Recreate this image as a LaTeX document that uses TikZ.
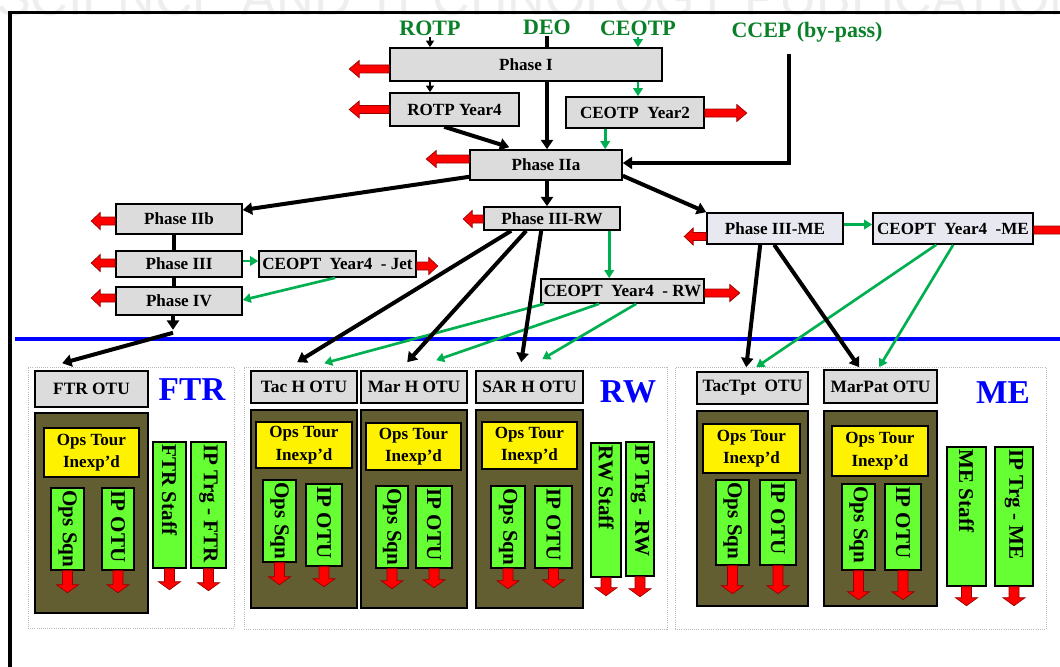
\documentclass[tikz,border=0pt]{standalone}
\usepackage{fontspec}
\setmainfont{Liberation Serif}
\newfontfamily\wmfont{Liberation Sans}
\usetikzlibrary{arrows.meta,calc}
\definecolor{boxgray}{RGB}{220,220,220}
\definecolor{megray}{RGB}{232,232,240}
\definecolor{olivebox}{RGB}{98,94,50}
\definecolor{limebox}{RGB}{102,255,51}
\definecolor{arrgreen}{RGB}{0,176,80}
\definecolor{txtgreen}{RGB}{10,128,40}
\definecolor{darkred}{RGB}{150,0,0}
\definecolor{wmgray}{RGB}{238,238,238}
\definecolor{panelgray}{RGB}{185,185,185}
\newcommand\bx[7]{\node[#1, minimum width={(#4-#2)*0.75pt}, minimum height={(#5-#3)*0.75pt}] (#6) at ({(#2+#4)/2},{(#3+#5)/2}) {#7};}
% start, angle, length, head length, shaft half width, head half width
\newcommand\blk[6]{\begin{scope}[shift={(#1)}, rotate=#2]
\draw[redarr] (0,-#5) -- ({#3-#4},-#5) -- ({#3-#4},-#6) -- (#3,0) -- ({#3-#4},#6) -- ({#3-#4},#5) -- (0,#5) -- cycle;
\end{scope}}
\tikzset{
 gbox/.style={draw=black, line width=1.2pt, fill=boxgray, inner sep=0pt, font=\fontsize{12.8}{14}\selectfont\bfseries},
 mebox/.style={gbox, fill=megray},
 otu/.style={gbox, font=\fontsize{13}{15}\selectfont\bfseries},
 obox/.style={draw=black, line width=1.1pt, fill=olivebox, inner sep=0pt},
 ybox/.style={draw=black, line width=1.1pt, fill=yellow, inner sep=0pt, align=center, font=\fontsize{12.8}{17}\selectfont\bfseries},
 lbox/.style={draw=black, line width=1.1pt, fill=limebox, inner sep=0pt},
 vtext/.style={rotate=-90, anchor=west, inner sep=0pt, font=\fontsize{15.8}{17}\selectfont\bfseries},
 toplab/.style={text=txtgreen, font=\fontsize{16.5}{18}\selectfont\bfseries, inner sep=1pt},
 biglab/.style={text=blue, font=\fontsize{25}{28}\selectfont\bfseries, inner sep=0pt},
 panel/.style={draw=panelgray, densely dotted, line width=0.6pt, inner sep=0pt},
 blkline/.style={line width=3pt, -{Triangle[length=7pt,width=9pt]}},
 blknoarr/.style={line width=3pt},
 thinblk/.style={line width=1.5pt, -{Triangle[length=5pt,width=6pt]}},
 grn/.style={draw=arrgreen, line width=2pt, -{Triangle[length=6pt,width=7pt]}},
 redarr/.style={fill=red, draw=darkred, line width=0.5pt, line join=miter},
}
\begin{document}
\begin{tikzpicture}[x=0.75pt,y=-0.75pt]
\useasboundingbox (0,0) rectangle (1060,667);
\clip (0,0) rectangle (1060,667);
\fill[white] (0,0) rectangle (1060,667);
% watermark
\node[anchor=base west, text=wmgray, font=\wmfont\fontsize{39}{40}\selectfont, inner sep=0pt] (wm) at (-4,15.5) {SCIENCE AND TECHNOLOGY PUBLICATIONS};
% frame and divider
\draw[line width=2.5pt] (10,667) -- (10,12.5) -- (1062,12.5);
\draw[blue, line width=2.5pt] (15,339) -- (1062,339);

% ---------- top labels ----------
\node[toplab] (lrotp) at (430,28) {ROTP};
\node[toplab] (ldeo) at (547,27) {DEO};
\node[toplab] (lceotp) at (638,28) {CEOTP};
\node[toplab] (lccep) at (807,32) {CCEP (by-pass)};

% ---------- top boxes ----------
\bx{gbox}{390}{48}{662}{81}{p1}{Phase I}
\bx{gbox}{390}{93}{519}{126}{ry4}{ROTP Year4}
\bx{gbox}{566}{97}{704}{128}{cy2}{CEOTP~ Year2}
\bx{gbox}{470}{150}{622}{180}{p2a}{Phase IIa}
\bx{gbox}{116}{204}{242}{234}{p2b}{Phase IIb}
\bx{gbox}{116}{251}{242}{277}{p3}{Phase III}
\bx{gbox}{116}{287}{242}{315}{p4}{Phase IV}
\bx{gbox}{259}{251}{416}{277}{jet}{CEOPT~ Year4~ - Jet}
\bx{gbox}{484}{207}{620}{230}{p3rw}{Phase III-RW}
\bx{gbox}{541}{279}{704}{303}{crw}{CEOPT~ Year4~ - RW}
\bx{mebox}{707}{213}{843}{244}{p3me}{Phase III-ME}
\bx{mebox}{873}{213}{1033}{244}{cme}{CEOPT~ Year4~ -ME}

% ---------- panels ----------
\bx{panel}{28}{367}{234}{628}{ftrP}{}
\bx{panel}{244}{367}{667}{629}{rwP}{}
\bx{panel}{675}{367}{1046}{629}{meP}{}

% FTR
\bx{otu}{35}{371}{148}{407}{ftr}{FTR OTU}
\node[biglab] (lftr) at (192,390) {FTR};
\bx{obox}{35}{413}{148}{613}{ftrO}{}
\bx{ybox}{44}{428}{139}{477}{ftrY}{Ops Tour\\Inexp’d}
\bx{lbox}{51}{488}{84}{570}{ftrG1}{}
\bx{lbox}{102}{488}{134}{570}{ftrG2}{}
\bx{lbox}{153}{442}{186}{568}{ftrS}{}
\bx{lbox}{191}{442}{226}{568}{ftrT}{}
\node[vtext] (ftrG1t) at ($(ftrG1.north)+(0,3)$) {Ops Sqn};
\node[vtext] (ftrG2t) at ($(ftrG2.north)+(0,3)$) {IP OTU};
\node[vtext] (ftrSt) at ($(ftrS.north)+(0,3)$) {FTR Staff};
\node[vtext] (ftrTt) at ($(ftrT.north)+(0,3)$) {IP Trg - FTR};

% RW
\bx{otu}{251}{371}{357}{403}{tach}{Tac H OTU}
\bx{otu}{361}{371}{467}{403}{marh}{Mar H OTU}
\bx{otu}{476}{371}{583}{403}{sarh}{SAR H OTU}
\node[biglab] (lrw) at (628,392) {RW};
\bx{obox}{251}{410}{357}{608}{tacO}{}
\bx{obox}{361}{410}{467}{608}{marO}{}
\bx{obox}{476}{410}{583}{608}{sarO}{}
\bx{ybox}{256}{422}{352}{468}{tacY}{Ops Tour\\Inexp’d}
\bx{ybox}{366}{423}{461}{470}{marY}{Ops Tour\\Inexp’d}
\bx{ybox}{482}{422}{577}{469}{sarY}{Ops Tour\\Inexp’d}
\bx{lbox}{263}{480}{296}{562}{tacG1}{}
\bx{lbox}{306}{484}{342}{566}{tacG2}{}
\bx{lbox}{376}{486}{408}{568}{marG1}{}
\bx{lbox}{416}{486}{452}{568}{marG2}{}
\bx{lbox}{491}{486}{525}{568}{sarG1}{}
\bx{lbox}{535}{486}{572}{568}{sarG2}{}
\bx{lbox}{591}{443}{621}{577}{rwS}{}
\bx{lbox}{626}{442}{654}{576}{rwT}{}
\node[vtext] (tacG1t) at ($(tacG1.north)+(0,3)$) {Ops Sqn};
\node[vtext] (tacG2t) at ($(tacG2.north)+(0,3)$) {IP OTU};
\node[vtext] (marG1t) at ($(marG1.north)+(0,3)$) {Ops Sqn};
\node[vtext] (marG2t) at ($(marG2.north)+(0,3)$) {IP OTU};
\node[vtext] (sarG1t) at ($(sarG1.north)+(0,3)$) {Ops Sqn};
\node[vtext] (sarG2t) at ($(sarG2.north)+(0,3)$) {IP OTU};
\node[vtext] (rwSt) at ($(rwS.north)+(0,3)$) {RW Staff};
\node[vtext] (rwTt) at ($(rwT.north)+(0,3)$) {IP Trg - RW};

% ME
\bx{otu}{697}{372}{808}{404}{tact}{TacTpt~ OTU}
\bx{otu}{824}{370}{937}{403}{marp}{MarPat OTU}
\node[biglab] (lme) at (1003,393) {ME};
\bx{obox}{697}{411}{808}{606}{tactO}{}
\bx{obox}{824}{411}{937}{606}{marpO}{}
\bx{ybox}{703}{424}{800}{473}{tactY}{Ops Tour\\Inexp’d}
\bx{ybox}{832}{426}{928}{476}{marpY}{Ops Tour\\Inexp’d}
\bx{lbox}{716}{480}{749}{565}{tactG1}{}
\bx{lbox}{760}{480}{796}{565}{tactG2}{}
\bx{lbox}{842}{484}{875}{570}{marpG1}{}
\bx{lbox}{885}{484}{921}{570}{marpG2}{}
\bx{lbox}{947}{447}{986}{586}{meS}{}
\bx{lbox}{995}{447}{1033}{586}{meT}{}
\node[vtext] (tactG1t) at ($(tactG1.north)+(0,3)$) {Ops Sqn};
\node[vtext] (tactG2t) at ($(tactG2.north)+(0,3)$) {IP OTU};
\node[vtext] (marpG1t) at ($(marpG1.north)+(0,3)$) {Ops Sqn};
\node[vtext] (marpG2t) at ($(marpG2.north)+(0,3)$) {IP OTU};
\node[vtext] (meSt) at ($(meS.north)+(0,3)$) {ME Staff};
\node[vtext] (meTt) at ($(meT.north)+(0,3)$) {IP Trg - ME};

% ---------- connectors ----------
\draw[thinblk] (lrotp.south) -- (lrotp.south |- p1.north);
\draw[thinblk] (p1.south -| lrotp) -- (ry4.north -| lrotp);
\draw[blknoarr] (ldeo.south) -- (ldeo.south |- p1.north);
\draw[blkline] (p1.south -| ldeo) -- (p2a.north -| ldeo);
\draw[grn] (lceotp.south) -- (lceotp.south |- p1.north);
\draw[grn] (p1.south -| lceotp) -- (cy2.north -| lceotp);
\coordinate (cy2b) at ($(cy2.south west)+(40,0)$);
\draw[grn] (cy2b) -- (cy2b |- p2a.north);
\draw[blkline] ($(ry4.south west)+(55,0)$) -- ($(p2a.north west)+(40,-2)$);
\coordinate (cc) at ($(lccep.south)+(-18,10)$);
\coordinate (p2ae) at ($(p2a.east)+(0,-2)$);
\draw[blkline] (cc) |- (p2ae);
\draw[blkline] ($(p2a.south west)+(0,-4)$) -- ($(p2b.east)+(0,-9)$);
\draw[blkline] (p2a.south -| ldeo) -- (p3rw.north -| ldeo);
\draw[blkline] ($(p2a.south east)+(0,-5)$) -- (p3me.north west);
\draw[blknoarr] ($(p2b.south)+(-5,0)$) -- ($(p3.north)+(-5,0)$);
\draw[blknoarr] ($(p3.south)+(-5,0)$) -- ($(p4.north)+(-5,0)$);
\coordinate (p4t) at ($(p4.south)+(-6,14)$);
\draw[blkline] ($(p4.south)+(-6,0)$) -- (p4t);
\draw[blkline] ($(p4t)+(0,3)$) -- ($(ftr.north west)+(28,-7)$);
\draw[grn] ($(p3.east)+(0,-3)$) -- ($(jet.west)+(0,-3)$);
\draw[grn] ($(jet.south west)+(77,0)$) -- ($(p4.east)+(0,-1)$);
\coordinate (rwb) at ($(p3rw.south west)+(126,0)$);
\draw[grn] (rwb) -- (rwb |- crw.north);
\draw[grn] ($(p3me.east)+(0,-4)$) -- ($(cme.west)+(0,-4)$);
% to RW OTUs
\draw[grn] ($(crw.south west)+(4,0)$) -- ($(tach.north west)+(74,-7)$);
\draw[grn] ($(crw.south west)+(59,0)$) -- ($(marh.north west)+(76,-10)$);
\draw[grn] ($(crw.south west)+(96,0)$) -- ($(sarh.north west)+(67,-11)$);
\draw[blkline] ($(p3rw.south west)+(28,0)$) -- ($(tach.north west)+(47,-8)$);
\draw[blkline] ($(p3rw.south west)+(43,0)$) -- ($(marh.north west)+(47,-8)$);
\draw[blkline] ($(p3rw.south west)+(58,0)$) -- ($(sarh.north west)+(46,-8)$);
% to ME OTUs
\draw[grn] ($(cme.south west)+(64,0)$) -- ($(tact.north west)+(60,-4)$);
\draw[grn] ($(cme.south west)+(81,0)$) -- ($(marp.north west)+(56,-2)$);
\draw[blkline] ($(p3me.south west)+(54,0)$) -- ($(tact.north west)+(50,-4)$);
\draw[blkline] ($(p3me.south west)+(68,0)$) -- ($(marp.north west)+(36,-2)$);

% ---------- red block arrows ----------
\blk{$(p1.west)+(0,4.5)$}{180}{40}{10}{4}{8.5}
\blk{ry4.west}{180}{40}{10}{4}{8.5}
\blk{$(cy2.east)+(0,0.5)$}{0}{42}{10}{4}{8.5}
\blk{$(p2a.west)+(0,-6)$}{180}{43}{10}{4}{8.5}
\blk{$(p2b.west)+(0,2)$}{180}{24}{9}{4}{8.5}
\blk{$(p3.west)+(0,-1)$}{180}{24}{9}{4}{8.5}
\blk{$(p4.west)+(0,-3)$}{180}{24}{9}{4}{8.5}
\blk{$(jet.east)+(0,2)$}{0}{21}{9}{4}{8.5}
\blk{$(p3rw.west)+(0,0.5)$}{180}{20}{9}{4}{8.5}
\blk{$(crw.east)+(0,2)$}{0}{35}{10}{4}{8.5}
\blk{$(p3me.west)+(0,8)$}{180}{22}{9}{4}{8.5}
\blk{$(cme.east)+(0,1.5)$}{0}{40}{10}{4}{8.5}
% down arrows
\blk{ftrG1.south}{-90}{22}{8}{5}{11}
\blk{ftrG2.south}{-90}{22}{8}{5}{11}
\blk{ftrS.south}{-90}{21}{8}{5}{11}
\blk{ftrT.south}{-90}{22}{8}{5}{11}
\blk{tacG1.south}{-90}{22}{8}{5}{11}
\blk{tacG2.south}{-90}{20}{8}{5}{11}
\blk{marG1.south}{-90}{20}{8}{5}{11}
\blk{marG2.south}{-90}{19}{8}{5}{11}
\blk{sarG1.south}{-90}{20}{8}{5}{11}
\blk{sarG2.south}{-90}{19}{8}{5}{11}
\blk{rwS.south}{-90}{18}{8}{5}{11}
\blk{rwT.south}{-90}{20}{8}{5}{11}
\blk{tactG1.south}{-90}{28}{8}{5}{11}
\blk{tactG2.south}{-90}{28}{8}{5}{11}
\blk{marpG1.south}{-90}{29}{8}{5}{11}
\blk{marpG2.south}{-90}{29}{8}{5}{11}
\blk{meS.south}{-90}{19}{8}{5}{11}
\blk{meT.south}{-90}{19}{8}{5}{11}
\end{tikzpicture}
\end{document}
